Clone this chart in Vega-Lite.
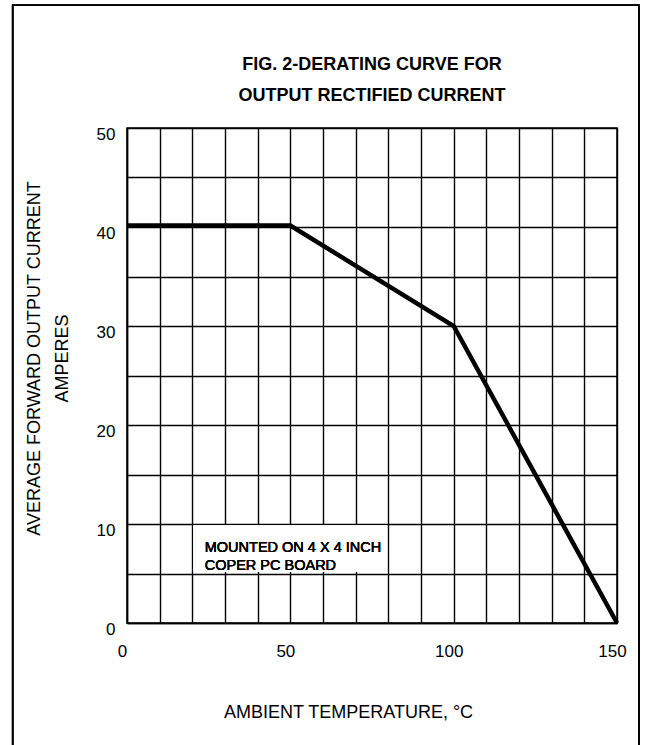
{
  "$schema": "https://vega.github.io/schema/vega-lite/v6.json",
  "width": 490,
  "height": 495,
  "autosize": {"type": "none"},
  "padding": {"left": 127, "top": 128, "right": 31, "bottom": 122},
  "background": "white",
  "config": {
    "font": "Liberation Sans",
    "view": {"stroke": "black", "strokeWidth": 1.5}
  },
  "title": {
    "text": ["FIG. 2-DERATING CURVE FOR", "OUTPUT RECTIFIED CURRENT"],
    "font": "Liberation Sans",
    "fontSize": 18,
    "fontWeight": "bold",
    "color": "black",
    "lineHeight": 31.6,
    "anchor": "middle",
    "offset": 27,
    "dy": 128
  },
  "data": {
    "values": [
      {"temp": 0, "current": 40.15},
      {"temp": 50, "current": 40.15},
      {"temp": 100, "current": 30},
      {"temp": 150, "current": 0}
    ]
  },
  "resolve": {"axis": {"x": "independent", "y": "independent"}},
  "layer": [
    {
      "mark": {"type": "rect", "fill": "white", "fillOpacity": 0, "stroke": "black", "strokeWidth": 1.5, "clip": false},
      "encoding": {
        "x": {
          "datum": -35,
          "type": "quantitative",
          "scale": {"domain": [0, 150], "nice": false, "zero": false},
          "axis": {
            "orient": "bottom",
            "values": [0, 10, 20, 30, 40, 50, 60, 70, 80, 90, 100, 110, 120, 130, 140, 150],
            "grid": true,
            "gridColor": "black",
            "gridOpacity": 1,
            "gridWidth": 1.4,
            "labels": false,
            "ticks": false,
            "domain": false,
            "title": null
          }
        },
        "x2": {"datum": 156.7},
        "y": {
          "datum": 62.4,
          "type": "quantitative",
          "scale": {"domain": [0, 50], "nice": false, "zero": false},
          "axis": {
            "orient": "left",
            "values": [0, 5, 10, 15, 20, 25, 30, 35, 40, 45, 50],
            "grid": true,
            "gridColor": "black",
            "gridOpacity": 1,
            "gridWidth": 1.4,
            "labels": false,
            "ticks": false,
            "domain": false,
            "title": null
          }
        },
        "y2": {"datum": -14}
      }
    },
    {
      "mark": {"type": "rect", "fill": "white", "stroke": null},
      "encoding": {
        "x": {"datum": 20.4, "type": "quantitative", "axis": null},
        "x2": {"datum": 79.6},
        "y": {"datum": 9.85, "type": "quantitative", "axis": null},
        "y2": {"datum": 5.15}
      }
    },
    {
      "mark": {"type": "text", "align": "left", "baseline": "middle", "fontSize": 14.5, "fontWeight": "normal", "lineHeight": 18, "fill": "black", "stroke": null, "font": "Liberation Sans"},
      "encoding": {
        "x": {"datum": 23.8, "type": "quantitative", "axis": null},
        "y": {"datum": 7.55, "type": "quantitative", "axis": null},
        "text": {"value": ["MOUNTED ON 4 X 4 INCH", "COPER PC BOARD"]}
      }
    },
    {
      "mark": {"type": "line", "color": "black", "strokeWidth": 4.5, "strokeJoin": "miter", "clip": false},
      "encoding": {
        "x": {
          "field": "temp",
          "type": "quantitative",
          "axis": {
            "orient": "bottom",
            "values": [0, 50, 100, 150],
            "grid": false,
            "ticks": false,
            "tickSize": 0,
            "domainColor": "black",
            "domainWidth": 1.5,
            "labelFont": "Liberation Sans",
            "labelFontSize": 17,
            "labelColor": "black",
            "labelBaseline": "middle",
            "labelPadding": 28.5,
            "labelOffset": -5,
            "labelFlush": false,
            "labelOverlap": false,
            "labelBound": false,
            "title": "AMBIENT TEMPERATURE, °C",
            "titleFont": "Liberation Sans",
            "titleFontSize": 18,
            "titleFontWeight": "normal",
            "titleColor": "black",
            "titleAnchor": null,
            "titleX": 221,
            "titleY": 89,
            "titleAlign": "center",
            "titleBaseline": "middle"
          }
        },
        "y": {
          "field": "current",
          "type": "quantitative",
          "axis": {
            "orient": "left",
            "values": [0, 10, 20, 30, 40, 50],
            "grid": false,
            "ticks": false,
            "tickSize": 0,
            "domainColor": "black",
            "domainWidth": 1.5,
            "labelFont": "Liberation Sans",
            "labelFontSize": 17,
            "labelColor": "black",
            "labelPadding": 12,
            "labelOffset": 6,
            "labelFlush": false,
            "labelOverlap": false,
            "labelBound": false,
            "title": ["AVERAGE FORWARD OUTPUT CURRENT", "AMPERES"],
            "titleFont": "Liberation Sans",
            "titleFontSize": 18,
            "titleFontWeight": "normal",
            "titleColor": "black",
            "titleLineHeight": 28,
            "titleAngle": 270,
            "titleAnchor": null,
            "titleX": -93,
            "titleY": 230,
            "titleAlign": "center",
            "titleBaseline": "middle"
          }
        }
      }
    }
  ]
}
